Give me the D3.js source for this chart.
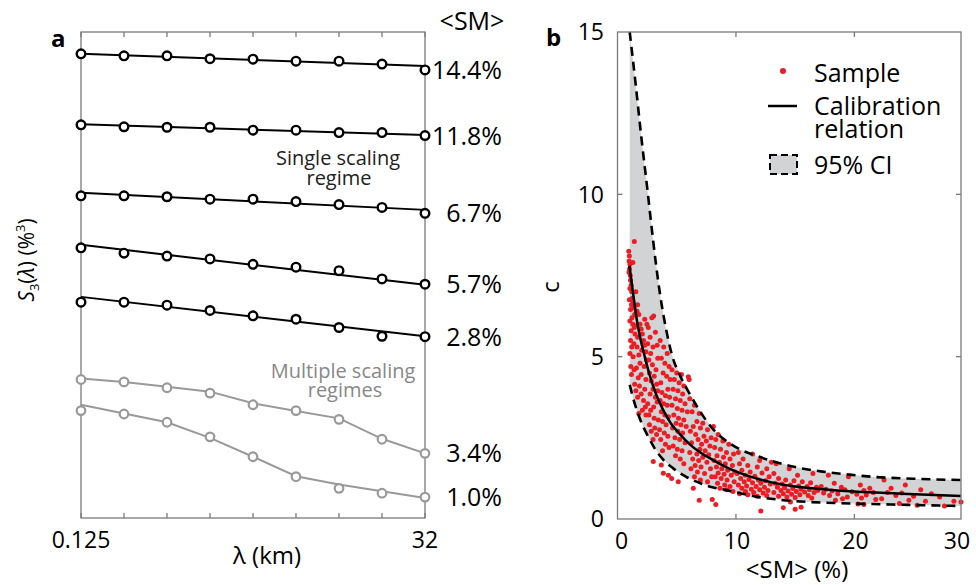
<!DOCTYPE html>
<html>
<head>
<meta charset="utf-8">
<script src="https://cdn.jsdelivr.net/npm/d3@7"></script>
<style>
  body { margin: 0; background: #fff; }
  text { font-family: "Open Sans", "Noto Sans", sans-serif; }
</style>
</head>
<body>
<div id="chart"></div>
<script>
// ---- panel a data ----
const lambdaKm = [0.125, 0.25, 0.5, 1, 2, 4, 8, 16, 32];
const lambdaTickLabels = ["0.125", "32"];
const smLabels = ["14.4%", "11.8%", "6.7%", "5.7%", "2.8%", "3.4%", "1.0%"];
// S3 values (arbitrary offset units, 0..100 on the panel)
const s3_144 = [95.5, 95.1, 95.1, 94.5, 94.4, 94.0, 94.0, 93.4, 92.2];
const s3_118 = [80.9, 80.5, 80.4, 80.4, 79.8, 79.8, 79.3, 79.3, 78.7];
const s3_67 = [66.3, 66.3, 66.1, 65.6, 65.6, 65.1, 64.5, 63.9, 62.7];
const s3_57 = [55.6, 54.5, 53.9, 53.3, 52.2, 51.6, 50.9, 49.2, 48.1];
const s3_28 = [44.4, 44.4, 43.8, 42.7, 41.6, 40.9, 39.2, 37.4, 37.3];
const s3_34 = [28.5, 28.0, 26.8, 25.7, 23.3, 22.1, 20.3, 16.2, 13.3];
const s3_10 = [22.1, 21.4, 19.7, 16.7, 12.6, 8.5, 6.1, 5.1, 4.3];
// single-regime fitted lines: value at 0.125 km and at 32 km
const fit_144 = [95.5, 93.0];
const fit_118 = [81.0, 78.8];
const fit_67 = [66.9, 63.4];
const fit_57 = [56.2, 48.0];
const fit_28 = [45.5, 37.4];
// multiple-regime fitted lines
const fit_34 = [28.7, 28.0, 27.0, 26.0, 23.6, 22.0, 20.5, 16.3, 13.3];
const fit_10 = [23.3, 21.5, 19.7, 16.5, 12.6, 8.6, 6.9, 5.5, 4.1];

// ---- panel b data ----
const calX = [1.0, 1.3, 1.6, 2.0, 2.3, 2.7, 3.2, 3.8, 4.5, 5.3, 6.1, 7.0, 8.0, 9.0, 10.3, 11.7, 13.1, 15.0, 17.3, 20, 24, 29];
const calC = [7.8, 7.0, 6.2, 5.45, 5.0, 4.45, 3.9, 3.4, 2.95, 2.6, 2.3, 2.05, 1.83, 1.63, 1.42, 1.25, 1.12, 1.0, 0.92, 0.85, 0.78, 0.71];
const ciUpX = [1.03, 1.5, 2.0, 2.57, 3.0, 3.6, 4.1, 4.6, 5.3, 6.1, 7.0, 8.1, 9.2, 10.3, 11.7, 13.1, 15.0, 17.3, 19.5, 21.5, 25, 29];
const ciUpC = [15, 13.5, 11.8, 10.0, 8.6, 6.9, 5.85, 5.05, 4.4, 3.85, 3.3, 2.75, 2.4, 2.15, 1.95, 1.78, 1.6, 1.46, 1.37, 1.30, 1.24, 1.2];
const ciLoX = [1.03, 1.5, 1.93, 2.5, 3.05, 3.8, 4.7, 5.8, 7.0, 8.0, 9.2, 10.5, 11.7, 13.5, 15.9, 18.5, 21.5, 25, 29];
const ciLoC = [4.13, 3.5, 3.05, 2.6, 2.23, 1.85, 1.56, 1.3, 1.10, 0.98, 0.89, 0.78, 0.69, 0.6, 0.53, 0.49, 0.46, 0.43, 0.40];
const smTicks = [0, 10, 20];
const cTicks = [0, 5, 10, 15];

// sample points [<SM> %, c]
const samples = [
  [0.95,8.25],[1.0,8.1],[0.98,7.95],[1.05,7.85],[1.02,7.7],[0.97,7.6],[1.08,7.5],[1.1,7.35],[1.15,7.2],
  [1.05,7.1],[1.2,7.0],[1.25,6.8],[1.0,6.75],[1.3,6.7],[1.18,6.6],[1.4,6.5],[1.1,6.45],
  [1.45,6.3],[1.22,6.2],[1.05,6.1],[1.3,6.0],[1.42,5.9],[1.15,5.8],[1.48,5.7],[1.1,5.5],
  [1.38,5.4],[1.2,5.3],[1.05,5.1],[1.32,5.0],[1.12,4.7],[1.4,4.6],[1.18,4.45],
  [1.45,4.15],[1.42,8.55],[1.3,7.9],
  [1.55,7.0],[1.7,6.6],[1.65,6.4],[1.8,6.3],[1.9,6.0],[1.6,5.95],[2.0,5.85],
  [2.1,5.7],[1.7,5.6],[2.2,5.5],[2.3,5.35],[1.65,5.3],[2.05,5.2],[2.4,5.15],[1.8,5.05],
  [2.45,4.9],[1.9,4.8],[2.25,4.7],[1.6,4.65],[2.0,4.45],[1.75,4.35],[2.4,4.3],[1.85,4.1],
  [2.3,4.0],[1.55,3.95],[2.0,3.85],[1.7,3.75],[2.2,3.65],[2.35,3.45],[2.1,3.35],[1.8,3.25],
  [2.4,3.2],[2.48,6.0],[2.3,6.15],
  [2.9,6.2],[3.05,6.25],[2.6,5.9],[2.75,5.6],[3.2,5.75],[2.55,5.4],[3.0,5.3],[3.35,5.35],[2.8,5.1],
  [2.65,4.9],[3.4,4.95],[2.95,4.75],[3.25,4.6],[2.7,4.5],[3.1,4.4],[2.85,4.25],[3.3,4.15],
  [3.0,4.0],[3.4,3.95],[2.75,3.85],[3.2,3.75],[3.35,3.6],[2.55,3.55],[3.05,3.45],[2.8,3.35],
  [2.65,3.2],[3.1,3.1],[3.45,3.05],[2.7,2.9],[3.15,2.8],[2.85,2.7],[3.3,2.6],[3.0,2.45],
  [3.6,5.5],[3.9,5.3],[4.2,5.1],[3.7,4.95],[4.0,4.8],[4.35,4.7],[3.85,4.5],[4.15,4.4],[4.45,4.3],
  [3.65,4.2],[4.25,4.0],[3.75,3.9],[4.05,3.8],[4.4,3.75],[3.6,3.65],[3.9,3.55],[4.2,3.5],
  [3.7,3.3],[4.0,3.2],[4.3,3.15],[3.8,3.0],[4.1,2.9],[3.55,2.75],[3.95,2.65],[4.25,2.55],[3.65,2.45],
  [4.05,2.3],[4.35,2.2],[3.8,2.1],[3.02,1.77],[3.7,1.66],[3.87,1.41],[4.57,1.25],[4.3,1.35],
  [4.6,4.6],[5.0,4.5],[5.4,4.45],[5.98,4.38],[6.05,4.3],[4.8,4.3],[5.2,4.2],[5.6,4.1],[4.7,4.0],[5.1,3.95],
  [5.5,3.85],[4.9,3.7],[5.3,3.65],[5.7,3.55],[4.6,3.5],[5.05,3.4],[5.45,3.35],[5.9,3.3],[4.75,3.2],
  [5.15,3.1],[5.6,3.05],[4.95,2.95],[5.35,2.9],[5.8,2.85],[4.65,2.8],[5.1,2.7],[5.5,2.65],[4.85,2.5],
  [5.25,2.45],[5.7,2.35],[4.7,2.25],[5.05,2.15],[5.45,2.1],[4.9,1.95],[5.3,1.85],[5.13,1.15],[5.6,1.7],
  [6.1,3.7],[6.5,3.5],[6.3,3.3],[6.9,3.25],[6.7,3.0],[7.2,2.95],[6.4,2.85],[7.0,2.8],[7.6,2.75],
  [6.15,2.7],[6.6,2.6],[7.3,2.55],[7.9,2.5],[6.8,2.45],[7.5,2.4],[6.25,2.35],[7.1,2.3],[7.8,2.25],
  [6.95,2.15],[7.4,2.1],[6.1,2.05],[6.7,2.0],[7.7,1.98],[7.2,1.9],[6.35,1.85],[6.85,1.8],[7.55,1.75],[6.55,1.65],
  [7.05,1.6],[7.85,1.55],[6.2,1.55],[6.75,1.45],[7.35,1.4],[7.95,1.3],[6.5,1.3],[7.0,1.2],[7.6,1.15],[6.9,0.58],[6.4,0.95],
  [8.1,2.85],[8.5,2.6],[8.3,2.45],[8.9,2.4],[9.4,2.3],[8.2,2.2],[8.7,2.15],[9.2,2.05],[9.8,2.0],[8.4,1.95],
  [8.95,1.9],[9.5,1.85],[8.15,1.8],[8.6,1.75],[9.1,1.7],[9.7,1.65],[8.35,1.6],[8.8,1.55],[9.3,1.5],[9.9,1.45],
  [8.5,1.42],[9.0,1.38],[9.6,1.35],[8.25,1.3],[8.75,1.25],[9.25,1.2],[9.85,1.15],[8.45,1.1],[9.05,1.05],[9.5,1.0],
  [8.65,0.95],[9.2,0.9],[9.75,0.85],[8.3,0.45],[8.0,0.6],
  [10.2,2.05],[11.4,2.0],[10.6,1.85],[12.0,1.8],[10.3,1.7],[11.0,1.65],[11.8,1.6],[12.6,1.55],[10.5,1.5],[11.2,1.45],
  [12.2,1.42],[10.1,1.4],[10.8,1.35],[11.6,1.32],[12.8,1.3],[10.4,1.25],[11.1,1.22],[11.9,1.2],[12.5,1.18],[10.7,1.15],
  [11.4,1.12],[12.1,1.1],[12.9,1.08],[10.2,1.05],[10.9,1.02],[11.7,1.0],[12.4,0.98],[10.5,0.95],[11.3,0.92],[12.0,0.9],
  [12.7,0.88],[10.8,0.85],[11.5,0.82],[12.3,0.8],[10.3,0.78],[11.0,0.75],[12.1,0.25],[11.8,0.7],[12.6,0.72],[13.0,1.75],
  [13.4,1.7],[14.5,1.55],[13.2,1.4],[15.2,1.35],[16.5,1.4],[13.6,1.25],[14.2,1.2],[14.9,1.18],[15.6,1.15],[16.3,1.12],
  [13.3,1.1],[13.9,1.08],[14.6,1.05],[15.3,1.02],[16.0,1.0],[16.8,0.98],[13.5,0.98],[14.1,0.96],[14.8,0.94],[15.5,0.92],
  [16.2,0.9],[16.9,0.88],[13.8,0.88],[14.4,0.86],[15.1,0.85],[15.8,0.83],[16.6,0.82],[13.2,0.82],[14.0,0.78],[14.7,0.76],
  [15.4,0.75],[16.1,0.72],[13.6,0.7],[14.3,0.68],[15.0,0.66],[16.4,0.65],[14.0,0.35],[15.0,0.3],[15.5,0.36],[14.6,0.52],
  [17.8,1.35],[19.5,1.3],[18.3,1.1],[20.5,1.05],[17.2,1.0],[18.9,0.98],[21.3,0.95],[17.6,0.92],[19.2,0.9],[20.8,0.88],
  [18.1,0.86],[19.8,0.84],[21.6,0.82],[17.4,0.8],[18.6,0.78],[20.2,0.76],[21.0,0.74],[17.9,0.72],[19.4,0.68],[20.6,0.65],
  [21.8,0.6],[18.4,0.58],[20.3,0.46],[20.8,0.45],[19.0,0.62],
  [22.5,1.2],[24.3,1.05],[23.1,0.95],[25.6,0.9],[22.8,0.82],[24.0,0.8],[26.5,0.78],[23.5,0.72],[25.0,0.7],[27.2,0.68],
  [22.3,0.62],[24.6,0.58],[26.0,0.55],[28.4,0.55],[23.8,0.48],[25.3,0.42],[27.6,0.4],[29.0,0.52]
];

const svg = d3.select("#chart").append("svg")
    .attr("width", 976)
    .attr("height", 585);

const boxColor = "#7a7a7a";

// ================= panel a =================
const xA = d3.scaleLog().base(2).domain([0.125, 32]).range([81, 425]);
const yA = d3.scaleLinear().domain([0, 100]).range([518, 32]);

const gA = svg.append("g");
gA.append("rect")
    .attr("x", xA(0.125)).attr("y", yA(100))
    .attr("width", xA(32) - xA(0.125)).attr("height", yA(0) - yA(100))
    .attr("fill", "none").attr("stroke", boxColor).attr("stroke-width", 1.3);

// inward ticks top and bottom
lambdaKm.forEach(l => {
    gA.append("line").attr("x1", xA(l)).attr("x2", xA(l))
        .attr("y1", yA(0)).attr("y2", yA(0) - 5)
        .attr("stroke", boxColor).attr("stroke-width", 1.3);
    gA.append("line").attr("x1", xA(l)).attr("x2", xA(l))
        .attr("y1", yA(100)).attr("y2", yA(100) + 5)
        .attr("stroke", boxColor).attr("stroke-width", 1.3);
});

gA.append("text").attr("x", xA(0.125)).attr("y", 548).attr("text-anchor", "middle")
    .attr("font-size", 23).text(lambdaTickLabels[0]);
gA.append("text").attr("x", xA(32)).attr("y", 548).attr("text-anchor", "middle")
    .attr("font-size", 23).text(lambdaTickLabels[1]);
gA.append("text").attr("x", 267).attr("y", 564).attr("text-anchor", "middle")
    .attr("font-size", 24).text("λ (km)");

const yLab = gA.append("text")
    .attr("transform", "translate(34,260) rotate(-90)")
    .attr("text-anchor", "middle").attr("font-size", 21);
yLab.append("tspan").attr("font-style", "italic").text("S");
yLab.append("tspan").attr("font-size", 13).attr("dy", 5).text("3");
yLab.append("tspan").attr("dy", -5).text("(");
yLab.append("tspan").attr("font-style", "italic").text("λ");
yLab.append("tspan").text(") (%");
yLab.append("tspan").attr("font-size", 13).attr("dy", -9).text("3");
yLab.append("tspan").attr("dy", 9).text(")");

gA.append("text").attr("x", 51).attr("y", 47).attr("font-size", 24)
    .attr("font-weight", "bold").text("a");

const single = [
    { v: s3_144, fit: fit_144 },
    { v: s3_118, fit: fit_118 },
    { v: s3_67, fit: fit_67 },
    { v: s3_57, fit: fit_57 },
    { v: s3_28, fit: fit_28 }
];
const multi = [
    { v: s3_34, fit: fit_34 },
    { v: s3_10, fit: fit_10 }
];

const lineA = d3.line().x(d => xA(d[0])).y(d => yA(d[1]));

multi.forEach(s => {
    gA.append("path")
        .attr("d", lineA(lambdaKm.map((l, i) => [l, s.fit[i]])))
        .attr("fill", "none").attr("stroke", "#999").attr("stroke-width", 2);
    gA.selectAll(null).data(lambdaKm.map((l, i) => [l, s.v[i]])).enter()
        .append("circle")
        .attr("cx", d => xA(d[0])).attr("cy", d => yA(d[1])).attr("r", 4.3)
        .attr("fill", "#fff").attr("stroke", "#999").attr("stroke-width", 2.2);
});

single.forEach(s => {
    gA.append("path")
        .attr("d", lineA([[0.125, s.fit[0]], [32, s.fit[1]]]))
        .attr("fill", "none").attr("stroke", "#000").attr("stroke-width", 2);
    gA.selectAll(null).data(lambdaKm.map((l, i) => [l, s.v[i]])).enter()
        .append("circle")
        .attr("cx", d => xA(d[0])).attr("cy", d => yA(d[1])).attr("r", 4.3)
        .attr("fill", "#fff").attr("stroke", "#000").attr("stroke-width", 2.4);
});

// <SM> labels at the right end of each curve
const allSeries = [s3_144, s3_118, s3_67, s3_57, s3_28, s3_34, s3_10];
allSeries.forEach((s, i) => {
    gA.append("text")
        .attr("x", 502).attr("y", yA(s[s.length - 1]))
        .attr("dy", "0.36em").attr("text-anchor", "end")
        .attr("font-size", 25).text(smLabels[i]);
});
gA.append("text").attr("x", 472).attr("y", 30).attr("text-anchor", "middle")
    .attr("font-size", 25).text("<SM>");

gA.append("text").attr("x", 338).attr("y", 165).attr("text-anchor", "middle")
    .attr("font-size", 20).attr("fill", "#222").text("Single scaling");
gA.append("text").attr("x", 339).attr("y", 185).attr("text-anchor", "middle")
    .attr("font-size", 20).attr("fill", "#222").text("regime");
gA.append("text").attr("x", 343).attr("y", 378).attr("text-anchor", "middle")
    .attr("font-size", 20).attr("fill", "#888").text("Multiple scaling");
gA.append("text").attr("x", 345).attr("y", 397).attr("text-anchor", "middle")
    .attr("font-size", 20).attr("fill", "#888").text("regimes");

// ================= panel b =================
const xB = d3.scaleLinear().domain([0, 29]).range([617.5, 961]);
const yB = d3.scaleLinear().domain([0, 15]).range([519, 32]);

const gB = svg.append("g");

// confidence band
const band = ciUpX.map((x, i) => [x, ciUpC[i]])
    .concat(ciLoX.map((x, i) => [x, ciLoC[i]]).reverse());
const lineB = d3.line().x(d => xB(d[0])).y(d => yB(d[1])).curve(d3.curveMonotoneX);
gB.append("path")
    .attr("d", d3.line().x(d => xB(d[0])).y(d => yB(d[1]))(band) + "Z")
    .attr("fill", "#d2d3d5");

gB.selectAll(null).data(samples).enter().append("circle")
    .attr("cx", d => xB(d[0])).attr("cy", d => yB(d[1])).attr("r", 2.5)
    .attr("fill", "#ed1c24");

gB.append("path")
    .attr("d", lineB(ciUpX.map((x, i) => [x, ciUpC[i]])))
    .attr("fill", "none").attr("stroke", "#000").attr("stroke-width", 2.6)
    .attr("stroke-dasharray", "9,6");
gB.append("path")
    .attr("d", lineB(ciLoX.map((x, i) => [x, ciLoC[i]])))
    .attr("fill", "none").attr("stroke", "#000").attr("stroke-width", 2.6)
    .attr("stroke-dasharray", "9,6");
gB.append("path")
    .attr("d", lineB(calX.map((x, i) => [x, calC[i]])))
    .attr("fill", "none").attr("stroke", "#000").attr("stroke-width", 2.5);

gB.append("rect")
    .attr("x", xB(0)).attr("y", yB(15))
    .attr("width", xB(29) - xB(0)).attr("height", yB(0) - yB(15))
    .attr("fill", "none").attr("stroke", boxColor).attr("stroke-width", 1.3);

[10, 20].forEach(t => {
    gB.append("line").attr("x1", xB(t)).attr("x2", xB(t))
        .attr("y1", yB(0)).attr("y2", yB(0) - 5).attr("stroke", boxColor).attr("stroke-width", 1.3);
    gB.append("line").attr("x1", xB(t)).attr("x2", xB(t))
        .attr("y1", yB(15)).attr("y2", yB(15) + 5).attr("stroke", boxColor).attr("stroke-width", 1.3);
});
[5, 10].forEach(t => {
    gB.append("line").attr("x1", xB(0)).attr("x2", xB(0) + 5)
        .attr("y1", yB(t)).attr("y2", yB(t)).attr("stroke", boxColor).attr("stroke-width", 1.3);
    gB.append("line").attr("x1", xB(29)).attr("x2", xB(29) - 5)
        .attr("y1", yB(t)).attr("y2", yB(t)).attr("stroke", boxColor).attr("stroke-width", 1.3);
});

smTicks.forEach(t => {
    gB.append("text").attr("x", xB(t) + (t === 0 ? 4 : 1)).attr("y", 549)
        .attr("text-anchor", "middle").attr("font-size", 23).text(t);
});
gB.append("text").attr("x", xB(29) - 4).attr("y", 549)
    .attr("text-anchor", "middle").attr("font-size", 23).text("30");
cTicks.forEach(t => {
    gB.append("text").attr("x", 604).attr("y", yB(t)).attr("dy", "0.36em")
        .attr("text-anchor", "end").attr("font-size", 23).text(t);
});

gB.append("text").attr("x", 797).attr("y", 578).attr("text-anchor", "middle")
    .attr("font-size", 24).text("<SM> (%)");
gB.append("text").attr("transform", "translate(559,287) rotate(-90)")
    .attr("text-anchor", "middle").attr("font-size", 24).text("c");
gB.append("text").attr("x", 546).attr("y", 46).attr("font-size", 24)
    .attr("font-weight", "bold").text("b");

// legend
gB.append("circle").attr("cx", 783).attr("cy", 71).attr("r", 3).attr("fill", "#ed1c24");
gB.append("text").attr("x", 814).attr("y", 82).attr("font-size", 25).text("Sample");
gB.append("line").attr("x1", 768).attr("x2", 797).attr("y1", 106).attr("y2", 106)
    .attr("stroke", "#000").attr("stroke-width", 2.5);
gB.append("text").attr("x", 814).attr("y", 115).attr("font-size", 25).text("Calibration");
gB.append("text").attr("x", 814).attr("y", 138).attr("font-size", 25).text("relation");
gB.append("rect").attr("x", 770).attr("y", 155).attr("width", 27).attr("height", 19)
    .attr("fill", "#d2d3d5").attr("stroke", "#000").attr("stroke-width", 2)
    .attr("stroke-dasharray", "7,4");
gB.append("text").attr("x", 814).attr("y", 174).attr("font-size", 25).text("95% CI");
</script>
</body>
</html>
